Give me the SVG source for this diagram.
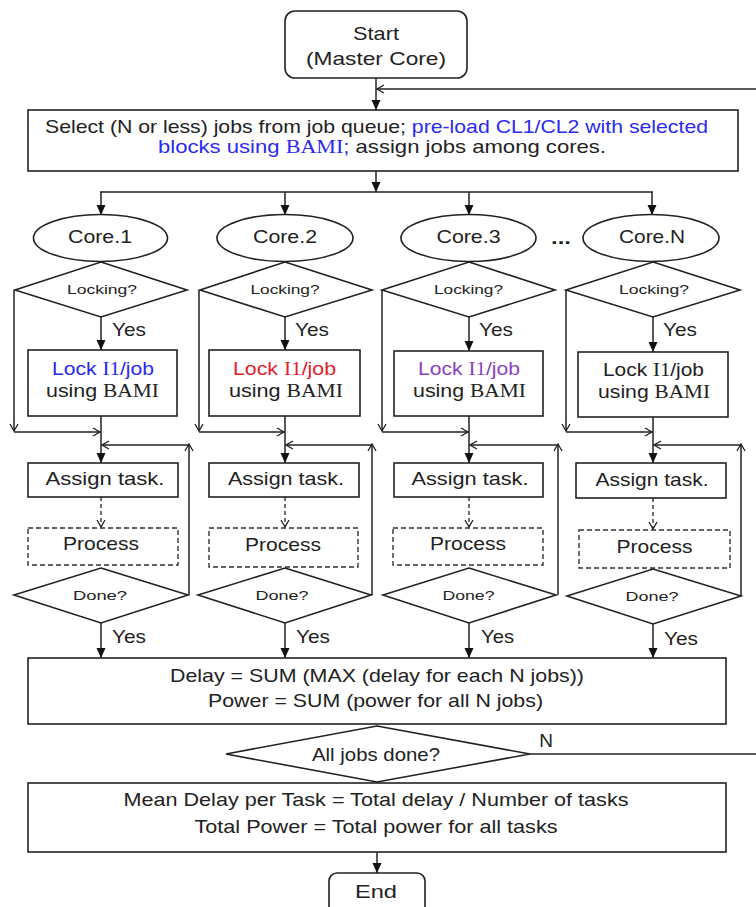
<svg xmlns="http://www.w3.org/2000/svg" width="756" height="907" viewBox="0 0 756 907">
<defs>
<style>
.bx{fill:#fff;stroke:#222;stroke-width:1.6}
.dash{fill:#fff;stroke:#333;stroke-width:1.4;stroke-dasharray:5,3}
.ln{fill:none;stroke:#222;stroke-width:1.5}
.dl{fill:none;stroke:#333;stroke-width:1.4;stroke-dasharray:4,3}
.t{font-family:"Liberation Sans",Arial,sans-serif;fill:#222;font-size:19px}
.sm{font-size:13px}
.sf{font-family:"Liberation Serif","Times New Roman",serif}
.blue{fill:#2a2af0}
.red{fill:#e3202c}
.pur{fill:#8b3fc4}
</style>
<marker id="a" markerUnits="userSpaceOnUse" markerWidth="10" markerHeight="10" refX="10" refY="5" orient="auto">
<path d="M0,0.5 L10,5 L0,9.5 z" fill="#111"/>
</marker>
<marker id="o" markerUnits="userSpaceOnUse" markerWidth="9" markerHeight="10" refX="8" refY="5" orient="auto">
<path d="M1,1 L8,5 L1,9" fill="none" stroke="#222" stroke-width="1.3"/>
</marker>
</defs>
<rect width="756" height="907" fill="#fff"/>

<g id="connectors">
<line class="ln" x1="376" y1="78" x2="376" y2="110" marker-end="url(#a)"/>
<line class="ln" x1="756" y1="89" x2="377" y2="89" marker-end="url(#o)"/>
<line class="ln" x1="376" y1="171" x2="376" y2="192" marker-end="url(#a)"/>
<line class="ln" x1="100" y1="192" x2="653" y2="192"/>
<line class="ln" x1="101" y1="192" x2="101" y2="215" marker-end="url(#a)"/>
<line class="ln" x1="285" y1="192" x2="285" y2="215" marker-end="url(#a)"/>
<line class="ln" x1="469" y1="192" x2="469" y2="215" marker-end="url(#a)"/>
<line class="ln" x1="652" y1="192" x2="652" y2="215" marker-end="url(#a)"/>
<!-- column 1 -->
<line class="ln" x1="101" y1="317" x2="101" y2="350" marker-end="url(#a)"/>
<line class="ln" x1="101" y1="416" x2="101" y2="463" marker-end="url(#a)"/>
<line class="ln" x1="14" y1="290" x2="14" y2="431" marker-end="url(#o)"/>
<line class="ln" x1="14" y1="432" x2="100" y2="432" marker-end="url(#o)"/>
<line class="dl" x1="101" y1="497" x2="101" y2="527" marker-end="url(#o)"/>
<line class="ln" x1="189" y1="595" x2="189" y2="444" marker-end="url(#o)"/>
<line class="ln" x1="189" y1="445" x2="102" y2="445" marker-end="url(#o)"/>
<line class="ln" x1="101" y1="623" x2="101" y2="658" marker-end="url(#a)"/>
<!-- column 2 -->
<line class="ln" x1="285" y1="317" x2="285" y2="350" marker-end="url(#a)"/>
<line class="ln" x1="285" y1="416" x2="285" y2="463" marker-end="url(#a)"/>
<line class="ln" x1="199" y1="290" x2="199" y2="431" marker-end="url(#o)"/>
<line class="ln" x1="199" y1="432" x2="284" y2="432" marker-end="url(#o)"/>
<line class="dl" x1="285" y1="497" x2="285" y2="527" marker-end="url(#o)"/>
<line class="ln" x1="372" y1="595" x2="372" y2="444" marker-end="url(#o)"/>
<line class="ln" x1="372" y1="445" x2="286" y2="445" marker-end="url(#o)"/>
<line class="ln" x1="285" y1="623" x2="285" y2="658" marker-end="url(#a)"/>
<!-- column 3 -->
<line class="ln" x1="469" y1="317" x2="469" y2="351" marker-end="url(#a)"/>
<line class="ln" x1="469" y1="416" x2="469" y2="463" marker-end="url(#a)"/>
<line class="ln" x1="382" y1="290" x2="382" y2="431" marker-end="url(#o)"/>
<line class="ln" x1="382" y1="432" x2="468" y2="432" marker-end="url(#o)"/>
<line class="dl" x1="469" y1="497" x2="469" y2="527" marker-end="url(#o)"/>
<line class="ln" x1="558" y1="595" x2="558" y2="444" marker-end="url(#o)"/>
<line class="ln" x1="558" y1="445" x2="470" y2="445" marker-end="url(#o)"/>
<line class="ln" x1="469" y1="623" x2="469" y2="658" marker-end="url(#a)"/>
<!-- column N -->
<line class="ln" x1="653" y1="317" x2="653" y2="352" marker-end="url(#a)"/>
<line class="ln" x1="653" y1="417" x2="653" y2="463" marker-end="url(#a)"/>
<line class="ln" x1="566" y1="290" x2="566" y2="431" marker-end="url(#o)"/>
<line class="ln" x1="566" y1="432" x2="652" y2="432" marker-end="url(#o)"/>
<line class="dl" x1="653" y1="498" x2="653" y2="529" marker-end="url(#o)"/>
<line class="ln" x1="741" y1="596" x2="741" y2="444" marker-end="url(#o)"/>
<line class="ln" x1="741" y1="445" x2="654" y2="445" marker-end="url(#o)"/>
<line class="ln" x1="653" y1="624" x2="653" y2="658" marker-end="url(#a)"/>
<!-- bottom -->
<line class="ln" x1="530" y1="754" x2="756" y2="754"/>
<line class="ln" x1="377" y1="852" x2="377" y2="873" marker-end="url(#a)"/>
</g>

<g id="start">
<rect class="bx" x="285" y="11" width="182" height="67" rx="10"/>
<text class="t" x="376" y="40" text-anchor="middle" textLength="46" lengthAdjust="spacingAndGlyphs">Start</text>
<text class="t" x="376" y="65" text-anchor="middle" textLength="140" lengthAdjust="spacingAndGlyphs">(Master Core)</text>
</g>

<g id="select">
<rect class="bx" x="28" y="110" width="710" height="61"/>
<text class="t" x="45" y="133" font-size="18.5" textLength="663" lengthAdjust="spacingAndGlyphs">Select (N or less) jobs from job queue; <tspan class="blue">pre-load CL1/CL2 with selected</tspan></text>
<text class="t" x="158" y="153" font-size="18.5" textLength="448" lengthAdjust="spacingAndGlyphs"><tspan class="blue">blocks using <tspan class="sf">BAMI</tspan>;</tspan> assign jobs among cores.</text>
</g>

<g id="core1">
<ellipse class="bx" cx="100.5" cy="238" rx="67" ry="23.5"/>
<text class="t" x="100" y="243" text-anchor="middle" textLength="64" lengthAdjust="spacingAndGlyphs">Core.1</text>
</g>
<g id="core2">
<ellipse class="bx" cx="285" cy="238" rx="68" ry="23.5"/>
<text class="t" x="285" y="243" text-anchor="middle" textLength="64" lengthAdjust="spacingAndGlyphs">Core.2</text>
</g>
<g id="core3">
<ellipse class="bx" cx="468.5" cy="238" rx="67.5" ry="23.5"/>
<text class="t" x="468.5" y="243" text-anchor="middle" textLength="64" lengthAdjust="spacingAndGlyphs">Core.3</text>
</g>
<g id="ellipsis">
<text class="t" x="561" y="244" text-anchor="middle" font-weight="bold" textLength="20" lengthAdjust="spacingAndGlyphs">...</text>
</g>
<g id="coreN">
<ellipse class="bx" cx="651" cy="238" rx="68" ry="23.5"/>
<text class="t" x="652" y="243" text-anchor="middle" textLength="66" lengthAdjust="spacingAndGlyphs">Core.N</text>
</g>

<g id="lock-dec-1">
<polygon class="bx" points="101,262 187,290 101,317 15,290"/>
<text class="t sm" x="102" y="294" text-anchor="middle" textLength="70" lengthAdjust="spacingAndGlyphs">Locking?</text>
<text class="t" x="112" y="336" font-size="18" textLength="34" lengthAdjust="spacingAndGlyphs">Yes</text>
</g>
<g id="lock-dec-2">
<polygon class="bx" points="285,262 372,290 285,317 200,290"/>
<text class="t sm" x="285" y="294" text-anchor="middle" textLength="69" lengthAdjust="spacingAndGlyphs">Locking?</text>
<text class="t" x="295" y="336" font-size="18" textLength="34" lengthAdjust="spacingAndGlyphs">Yes</text>
</g>
<g id="lock-dec-3">
<polygon class="bx" points="469,262 555,290 469,317 382,290"/>
<text class="t sm" x="468.5" y="294" text-anchor="middle" textLength="69" lengthAdjust="spacingAndGlyphs">Locking?</text>
<text class="t" x="479" y="336" font-size="18" textLength="34" lengthAdjust="spacingAndGlyphs">Yes</text>
</g>
<g id="lock-dec-N">
<polygon class="bx" points="653,262 740,290 653,317 566,290"/>
<text class="t sm" x="654" y="294" text-anchor="middle" textLength="70" lengthAdjust="spacingAndGlyphs">Locking?</text>
<text class="t" x="663" y="336" font-size="18" textLength="34" lengthAdjust="spacingAndGlyphs">Yes</text>
</g>

<g id="lock-1">
<rect class="bx" x="28" y="350" width="149" height="66"/>
<text class="t blue" x="103" y="375" text-anchor="middle" font-size="18" textLength="102" lengthAdjust="spacingAndGlyphs">Lock <tspan class="sf">I1</tspan>/job</text>
<text class="t" x="102.5" y="397" text-anchor="middle" font-size="18" textLength="113" lengthAdjust="spacingAndGlyphs">using <tspan class="sf">BAMI</tspan></text>
</g>
<g id="lock-2">
<rect class="bx" x="209" y="350" width="151" height="66"/>
<text class="t red" x="284.5" y="375" text-anchor="middle" font-size="18" textLength="103" lengthAdjust="spacingAndGlyphs">Lock <tspan class="sf">I1</tspan>/job</text>
<text class="t" x="286" y="397" text-anchor="middle" font-size="18" textLength="114" lengthAdjust="spacingAndGlyphs">using <tspan class="sf">BAMI</tspan></text>
</g>
<g id="lock-3">
<rect class="bx" x="394" y="351" width="149" height="65"/>
<text class="t pur" x="469" y="375" text-anchor="middle" font-size="18" textLength="102" lengthAdjust="spacingAndGlyphs">Lock <tspan class="sf">I1</tspan>/job</text>
<text class="t" x="469.5" y="397" text-anchor="middle" font-size="18" textLength="113" lengthAdjust="spacingAndGlyphs">using <tspan class="sf">BAMI</tspan></text>
</g>
<g id="lock-N">
<rect class="bx" x="578" y="352" width="150" height="65"/>
<text class="t" x="653.5" y="376" text-anchor="middle" font-size="18" textLength="101" lengthAdjust="spacingAndGlyphs">Lock <tspan class="sf">I1</tspan>/job</text>
<text class="t" x="654" y="398" text-anchor="middle" font-size="18" textLength="112" lengthAdjust="spacingAndGlyphs">using <tspan class="sf">BAMI</tspan></text>
</g>

<g id="assign-1">
<rect class="bx" x="28" y="463" width="150" height="34"/>
<text class="t" x="105" y="485" text-anchor="middle" font-size="18" textLength="119" lengthAdjust="spacingAndGlyphs">Assign task.</text>
</g>
<g id="assign-2">
<rect class="bx" x="209" y="463" width="150" height="34"/>
<text class="t" x="286" y="485" text-anchor="middle" font-size="18" textLength="116" lengthAdjust="spacingAndGlyphs">Assign task.</text>
</g>
<g id="assign-3">
<rect class="bx" x="394" y="463" width="149" height="34"/>
<text class="t" x="470" y="485" text-anchor="middle" font-size="18" textLength="117" lengthAdjust="spacingAndGlyphs">Assign task.</text>
</g>
<g id="assign-N">
<rect class="bx" x="576" y="463" width="150" height="35"/>
<text class="t" x="652" y="486" text-anchor="middle" font-size="18" textLength="113" lengthAdjust="spacingAndGlyphs">Assign task.</text>
</g>

<g id="process-1">
<rect class="dash" x="28" y="528" width="150" height="37"/>
<text class="t" x="101" y="550" text-anchor="middle" font-size="18" textLength="76" lengthAdjust="spacingAndGlyphs">Process</text>
</g>
<g id="process-2">
<rect class="dash" x="209" y="528" width="149" height="39"/>
<text class="t" x="283" y="551" text-anchor="middle" font-size="18" textLength="76" lengthAdjust="spacingAndGlyphs">Process</text>
</g>
<g id="process-3">
<rect class="dash" x="393" y="528" width="150" height="37"/>
<text class="t" x="468" y="550" text-anchor="middle" font-size="18" textLength="76" lengthAdjust="spacingAndGlyphs">Process</text>
</g>
<g id="process-N">
<rect class="dash" x="579" y="530" width="151" height="38"/>
<text class="t" x="654.5" y="553" text-anchor="middle" font-size="18" textLength="76" lengthAdjust="spacingAndGlyphs">Process</text>
</g>

<g id="done-1">
<polygon class="bx" points="101,568 188,595 101,623 14,595"/>
<text class="t sm" x="100" y="600" text-anchor="middle" textLength="54" lengthAdjust="spacingAndGlyphs">Done?</text>
<text class="t" x="112" y="643" font-size="18" textLength="34" lengthAdjust="spacingAndGlyphs">Yes</text>
</g>
<g id="done-2">
<polygon class="bx" points="285,568 371,595 285,623 198,595"/>
<text class="t sm" x="282" y="600" text-anchor="middle" textLength="53" lengthAdjust="spacingAndGlyphs">Done?</text>
<text class="t" x="296" y="643" font-size="18" textLength="34" lengthAdjust="spacingAndGlyphs">Yes</text>
</g>
<g id="done-3">
<polygon class="bx" points="469,568 556,595 469,623 383,595"/>
<text class="t sm" x="468.5" y="600" text-anchor="middle" textLength="52" lengthAdjust="spacingAndGlyphs">Done?</text>
<text class="t" x="481" y="643" font-size="18" textLength="33" lengthAdjust="spacingAndGlyphs">Yes</text>
</g>
<g id="done-N">
<polygon class="bx" points="653,569 741,596 653,624 567,596"/>
<text class="t sm" x="652" y="601" text-anchor="middle" textLength="53" lengthAdjust="spacingAndGlyphs">Done?</text>
<text class="t" x="664" y="645" font-size="18" textLength="34" lengthAdjust="spacingAndGlyphs">Yes</text>
</g>

<g id="sum">
<rect class="bx" x="28" y="658" width="698" height="66"/>
<text class="t" x="377" y="682" text-anchor="middle" font-size="18.5" textLength="414" lengthAdjust="spacingAndGlyphs">Delay = SUM (MAX (delay for each N jobs))</text>
<text class="t" x="375.5" y="707" text-anchor="middle" font-size="18.5" textLength="335" lengthAdjust="spacingAndGlyphs">Power = SUM (power for all N jobs)</text>
</g>

<g id="alldone">
<polygon class="bx" points="377,726 530,754 377,782 226,754"/>
<text class="t" x="376" y="761" text-anchor="middle" font-size="15.5" textLength="128" lengthAdjust="spacingAndGlyphs">All jobs done?</text>
<text class="t" x="546" y="747" text-anchor="middle" font-size="17">N</text>
</g>

<g id="result">
<rect class="bx" x="28" y="783" width="698" height="69"/>
<text class="t" x="376" y="806" text-anchor="middle" font-size="18.5" textLength="505" lengthAdjust="spacingAndGlyphs">Mean Delay per Task = Total delay / Number of tasks</text>
<text class="t" x="376" y="833" text-anchor="middle" font-size="18.5" textLength="363" lengthAdjust="spacingAndGlyphs">Total Power = Total power for all tasks</text>
</g>

<g id="end">
<rect class="bx" x="329" y="873" width="96" height="50" rx="8"/>
<text class="t" x="376" y="898" text-anchor="middle" textLength="42" lengthAdjust="spacingAndGlyphs">End</text>
</g>
</svg>
